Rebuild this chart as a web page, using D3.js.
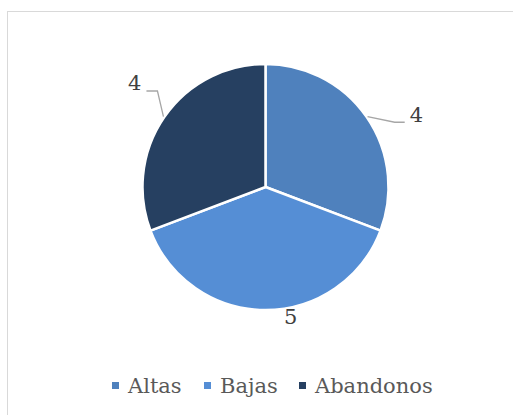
<!DOCTYPE html>
<html>
<head>
<meta charset="utf-8">
<script src="https://cdn.jsdelivr.net/npm/d3@7"></script>
<style>
  body { margin: 0; background: #fff; }
  svg { display: block; }
</style>
</head>
<body>
<div id="chart"></div>
<script>
// values
var categories = ["Altas", "Bajas", "Abandonos"];
var values = [4, 5, 4];
var colors = ["#4f81bd", "#558ed5", "#264061"];

var width = 513, height = 415;
var cx = 265.5, cy = 187, radius = 123;
var font = "'DejaVu Serif', 'Liberation Serif', serif";

var svg = d3.select("#chart").append("svg")
  .attr("width", width)
  .attr("height", height);

// chart frame
svg.append("rect")
  .attr("x", 7.5).attr("y", 11.5)
  .attr("width", 520).attr("height", 420)
  .attr("fill", "#fff")
  .attr("stroke", "#d9d9d9")
  .attr("stroke-width", 1);

var data = categories.map(function (c, i) {
  return { name: c, value: values[i], color: colors[i] };
});

var pie = d3.pie().sort(null).value(function (d) { return d.value; });
var arcs = pie(data);

var arc = d3.arc().innerRadius(0).outerRadius(radius);

var g = svg.append("g").attr("transform", "translate(" + cx + "," + cy + ")");

g.selectAll("path.slice")
  .data(arcs)
  .enter()
  .append("path")
  .attr("class", "slice")
  .attr("d", arc)
  .attr("fill", function (d) { return d.data.color; })
  .attr("stroke", "#fff")
  .attr("stroke-width", 2.5)
  .attr("stroke-linejoin", "round");

// polar helper, angle measured clockwise from 12 o'clock
function polar(a, r) {
  return [Math.sin(a) * r, -Math.cos(a) * r];
}

// label placement (best-fit style): angular nudge, elbow radius, leader?
var labelLayout = [
  { nudge: 8, r: 1.175, leader: true },
  { nudge: -11, r: 1.07, leader: false },
  { nudge: 7, r: 1.175, leader: true }
];

arcs.forEach(function (d, i) {
  var mid = (d.startAngle + d.endAngle) / 2;
  var lay = labelLayout[i];
  var a = mid + lay.nudge * Math.PI / 180;
  var elbow = polar(a, radius * lay.r);
  var right = Math.sin(a) > 0;
  if (lay.leader) {
    var start = polar(mid, radius + 1);
    var end = [elbow[0] + (right ? 10 : -11), elbow[1]];
    g.append("polyline")
      .attr("points", [start, elbow, end].map(function (p) { return p.join(","); }).join(" "))
      .attr("fill", "none")
      .attr("stroke", "#a6a6a6")
      .attr("stroke-width", 1.3);
    g.append("text")
      .attr("x", end[0] + (right ? 5 : -5))
      .attr("y", end[1] - 8)
      .attr("dy", "0.35em")
      .attr("text-anchor", right ? "start" : "end")
      .attr("font-family", font)
      .attr("font-size", 21)
      .attr("fill", "#404040")
      .text(d.data.value);
  } else {
    g.append("text")
      .attr("x", elbow[0])
      .attr("y", elbow[1])
      .attr("dy", "0.35em")
      .attr("text-anchor", "middle")
      .attr("font-family", font)
      .attr("font-size", 21)
      .attr("fill", "#404040")
      .text(d.data.value);
  }
});

// legend
var legendX = d3.scaleOrdinal().domain(categories).range([112, 204, 299]);
var legend = svg.append("g").attr("class", "legend");
var items = legend.selectAll("g")
  .data(data)
  .enter()
  .append("g")
  .attr("transform", function (d) { return "translate(" + legendX(d.name) + ",382)"; });

items.append("rect")
  .attr("width", 7).attr("height", 7)
  .attr("fill", function (d) { return d.color; });

items.append("text")
  .attr("x", 16)
  .attr("y", 11)
  .attr("font-family", font)
  .attr("font-size", 21)
  .attr("fill", "#595959")
  .text(function (d) { return d.name; });
</script>
</body>
</html>
